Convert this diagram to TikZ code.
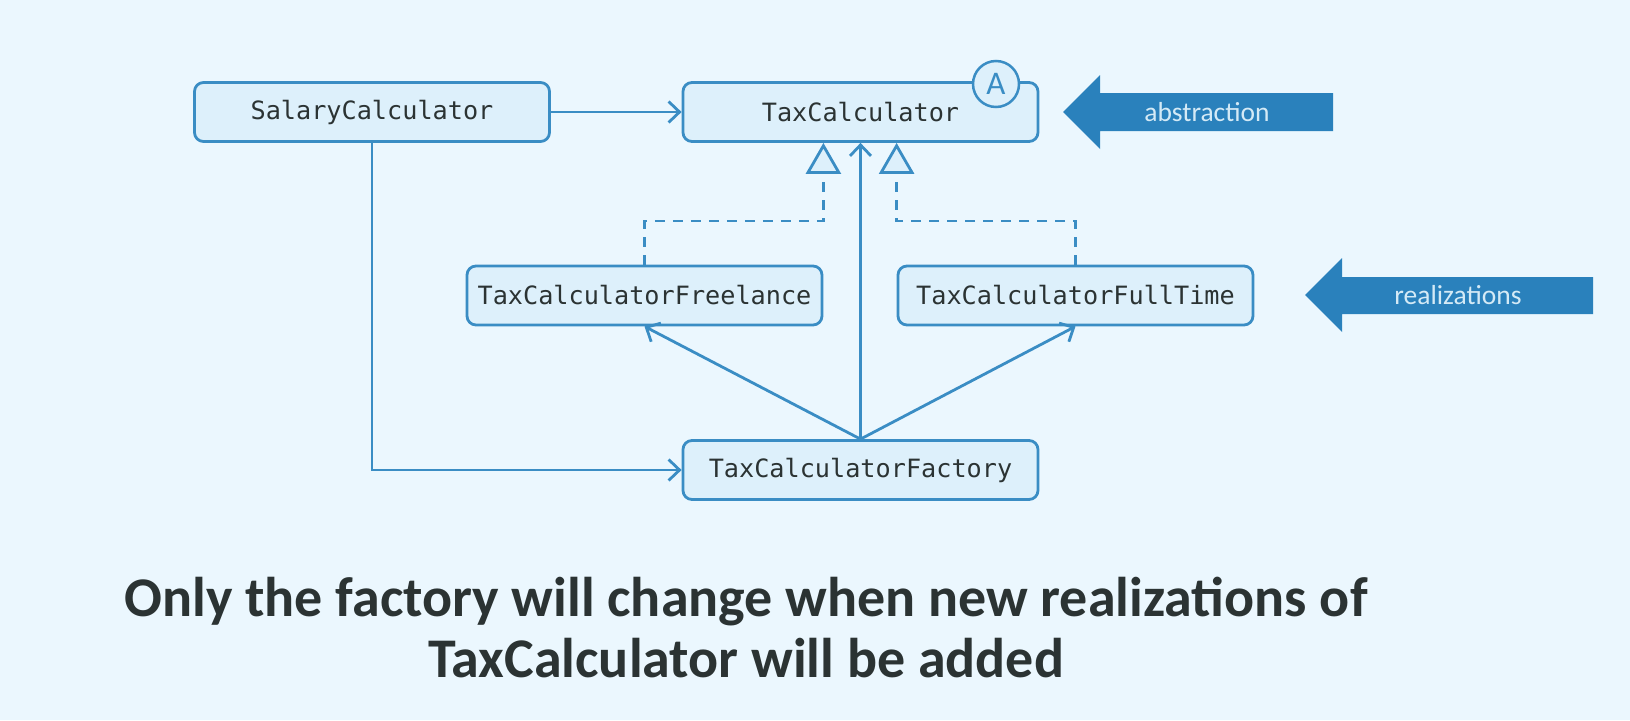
\documentclass[tikz,border=0pt]{standalone}
\usepackage{fontspec}
\setmainfont{Carlito}
\newfontfamily\monofont{DejaVu Sans Mono}
\usetikzlibrary{arrows.meta,calc}
\definecolor{bg}{HTML}{EBF7FE}
\definecolor{boxfill}{HTML}{DDF0FB}
\definecolor{linec}{HTML}{3A8DC4}
\definecolor{bigarrow}{HTML}{2A81BC}
\definecolor{txt}{HTML}{2B3333}
\definecolor{labeltxt}{HTML}{D4EAF6}
\begin{document}
\begin{tikzpicture}[x=1pt,y=-1pt,
  cls/.style={draw=linec, line width=2.8pt, fill=boxfill, rounded corners=9pt,
    minimum width=355pt, minimum height=59pt, inner sep=0pt,
    font=\monofont\fontsize{25.2}{30}\selectfont, text=txt},
  conn/.style={draw=linec, line width=2.8pt,
    -{Straight Barb[length=11pt,width=21pt,line width=2.8pt]}},
  realize/.style={draw=linec, line width=2.8pt, dash pattern=on 10pt off 8pt,
    -{Triangle[length=31pt,width=35pt,fill=boxfill,line width=2.8pt]}},
  bigarr/.style={fill=bigarrow},
  arrlabel/.style={font=\fontsize{27.5}{32}\selectfont, text=labeltxt, inner sep=0pt}
]
\fill[bg] (0,0) rectangle (1630,720);
\useasboundingbox (0,0) rectangle (1630,720);

% classes
\node[cls] (sal) at (372,112) {SalaryCalculator};
\node[cls] (tax) at (860.5,112) {TaxCalculator};
\node[cls] (free) at (644.5,295.5) {TaxCalculatorFreelance};
\node[cls] (full) at (1075.5,295.5) {TaxCalculatorFullTime};
\node[cls] (fac) at (860.5,470) {TaxCalculatorFactory};

% abstract marker
\node[circle, draw=linec, line width=2.5pt, fill=boxfill, minimum size=46pt, inner sep=0pt,
  text=linec, font=\fontsize{33}{36}\selectfont] (abs) at (996,84) {A};

% connectors
\coordinate (jl) at (free.east |- 0,221);
\coordinate (jr) at (full.west |- 0,221);
\draw[realize] (free.north) |- (jl) -- (free.east |- tax.south);
\draw[realize] (full.north) |- (jr) -- (full.west |- tax.south);
\draw[conn] (sal.east) -- (tax.west);
\draw[conn] (sal.south) |- (fac.west);
\draw[conn] (fac.north) -- (tax.south);
\draw[conn] (fac.north) -- (free.south);
\draw[conn] (fac.north) -- (full.south);

% big arrows
\fill[bigarr] (1063,112) -- (1100,75) -- (1100,93) -- (1333,93) -- (1333,131) -- (1100,131) -- (1100,149) -- cycle;
\node[arrlabel] (labs) at (1207,112) {abstraction};
\fill[bigarr] (1305,295) -- (1342,258) -- (1342,277) -- (1593,277) -- (1593,314) -- (1342,314) -- (1342,332) -- cycle;
\node[arrlabel] (lreal) at (1458,295) {realizations};

% caption
\node[font=\bfseries\fontsize{56}{61}\selectfont, text=txt, align=center, inner sep=0pt] (cap) at (746,628)
  {Only the factory will change when new realizations of\\TaxCalculator will be added};
\end{tikzpicture}
\end{document}
